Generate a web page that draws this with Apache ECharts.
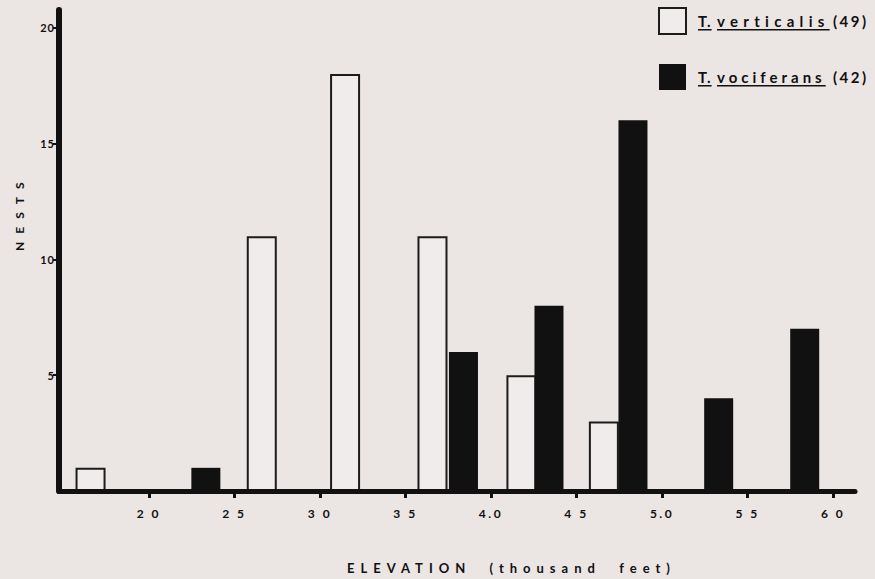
<!DOCTYPE html>
<html><head><meta charset="utf-8">
<script src="https://cdn.jsdelivr.net/npm/echarts@6/dist/echarts.min.js"></script>
<style>html,body{margin:0;padding:0;background:#ebe5e4;} #c{width:875px;height:579px;}</style>
</head><body><div id="c"></div>
<script>
// Data
const verticalisElevation = [1.656, 2.657, 3.144, 3.655, 4.175, 4.657];
const verticalisNests = [1, 11, 18, 11, 5, 3];
const vociferansElevation = [2.333, 3.839, 4.339, 4.830, 5.331, 5.834];
const vociferansNests = [1, 6, 8, 16, 4, 7];
const xTickValues = [2.0, 2.5, 3.0, 3.5, 4.0, 4.5, 5.0, 5.5, 6.0];
const xTickLabels = ['2 0', '2 5', '3 0', '3 5', '4.0', '4 5', '5.0', '5 5', '6 0'];
const yTickValues = [5, 10, 15, 20];
const seriesNames = ['T. verticalis', 'T. vociferans'];
const seriesCounts = [49, 42];
const xTitle = 'ELEVATION  (thousand  feet)';
const yTitle = 'NESTS';

const FONT = 'Lato, "Open Sans", sans-serif';
const INK = '#111111';
const PAPER = '#ebe5e4';
const OPEN = '#f0ecec';

const pairs = (xs, ys) => xs.map((x, i) => [x, ys[i]]);
const legendStyle = { fontFamily: FONT, fontWeight: 'bold', fontSize: 15, color: INK };

const chart = echarts.init(document.getElementById('c'), null, { renderer: 'svg' });
chart.setOption({
  backgroundColor: PAPER,
  animation: false,
  grid: { left: 59, right: 20, top: 10, bottom: 88 },
  legend: {
    orient: 'vertical',
    left: 658,
    top: 7,
    padding: 0,
    itemWidth: 27,
    itemHeight: 26,
    itemGap: 29,
    icon: 'rect',
    selectedMode: false,
    data: [
      { name: seriesNames[0], itemStyle: { color: OPEN, borderColor: '#1c1c1c', borderWidth: 2 } },
      { name: seriesNames[1], itemStyle: { color: INK, borderWidth: 0 } }
    ],
    formatter: name => {
      const i = seriesNames.indexOf(name);
      const parts = name.split(' ');
      return '{t|' + parts[0] + '}{v|' + parts[1] + '}{c|(' + seriesCounts[i] + ')}';
    },
    textStyle: {
      padding: [0, 0, 0, 7],
      rich: {
        t: Object.assign({ width: 19 }, legendStyle),
        v: Object.assign({ width: 116 }, legendStyle),
        c: legendStyle
      }
    }
  },
  xAxis: {
    type: 'value',
    min: 1.4745,
    max: 6.128,
    z: 5,
    axisLine: { onZero: false, lineStyle: { color: INK, width: 5 } },
    axisTick: { show: true, customValues: xTickValues, length: 7, lineStyle: { color: INK, width: 3 } },
    axisLabel: {
      customValues: xTickValues,
      margin: 16,
      fontFamily: FONT, fontWeight: 'bold', fontSize: 12, color: INK,
      formatter: v => {
        const i = xTickValues.findIndex(t => Math.abs(t - v) < 1e-6);
        return i >= 0 ? xTickLabels[i] : '';
      }
    },
    splitLine: { show: false }
  },
  yAxis: {
    type: 'value',
    min: 0,
    max: 20.76,
    z: 5,
    axisLine: { show: true, lineStyle: { color: INK, width: 6 } },
    axisTick: { show: true, customValues: yTickValues, length: 6, lineStyle: { color: INK, width: 2 } },
    axisLabel: {
      customValues: yTickValues,
      margin: 4,
      fontFamily: FONT, fontWeight: 'bold', fontSize: 11, color: INK
    },
    splitLine: { show: false }
  },
  series: [
    {
      name: seriesNames[0],
      type: 'bar',
      barWidth: 30,
      barGap: '-100%',
      data: pairs(verticalisElevation, verticalisNests),
      itemStyle: { color: OPEN, borderColor: '#1c1c1c', borderWidth: 2 }
    },
    {
      name: seriesNames[1],
      type: 'bar',
      barWidth: 29,
      barGap: '-100%',
      data: pairs(vociferansElevation, vociferansNests),
      itemStyle: { color: INK }
    }
  ],
  graphic: [
    {
      type: 'text', x: 347, y: 568,
      style: { text: xTitle, fontFamily: FONT, fontWeight: 'bold', fontSize: 13, fill: INK, align: 'left', verticalAlign: 'middle' }
    },
    {
      type: 'text', x: 19, y: 251, rotation: Math.PI / 2,
      style: { text: yTitle, fontFamily: FONT, fontWeight: 'bold', fontSize: 12, fill: INK, align: 'left', verticalAlign: 'middle' }
    }
  ]
});

// Typewriter-like letter spacing and underlined names, as in the scanned figure
const epithets = seriesNames.map(n => n.split(' ')[1]);
const epithetSpacing = [5.3, 4.0];
const genera = seriesNames.map(n => n.split(' ')[0]);
function applyTypography() {
  document.querySelectorAll('#c svg text').forEach(t => {
    const s = t.textContent;
    let ls = null, ul = false;
    if (s === xTitle) ls = 6;
    else if (s === yTitle) ls = 8;
    else if (xTickLabels.includes(s)) ls = 2.5;
    else if (genera.includes(s)) { ls = 1; ul = true; }
    else if (epithets.includes(s)) { ls = epithetSpacing[epithets.indexOf(s)]; ul = true; }
    else if (/^\(\d+\)$/.test(s)) ls = 2.5;
    else if (yTickValues.map(String).includes(s)) ls = 1;
    if (ls !== null) t.style.letterSpacing = ls + 'px';
    if (ul) t.style.textDecoration = 'underline';
  });
}
chart.on('finished', applyTypography);
applyTypography();
</script>
</body></html>
